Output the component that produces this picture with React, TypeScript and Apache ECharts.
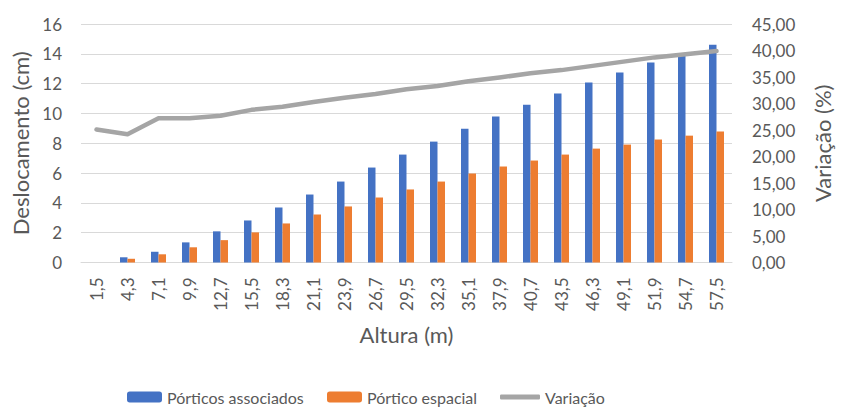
import React, { useEffect, useRef } from "react";
import * as echarts from "echarts";

// Altura (m) de cada nível
const alturas = [
  "1,5", "4,3", "7,1", "9,9", "12,7", "15,5", "18,3", "21,1", "23,9", "26,7", "29,5",
  "32,3", "35,1", "37,9", "40,7", "43,5", "46,3", "49,1", "51,9", "54,7", "57,5",
];

// Deslocamento (cm) — pórticos associados
const porticosAssociados = [
  0.0, 0.35, 0.72, 1.35, 2.09, 2.82, 3.69, 4.56, 5.43, 6.37, 7.24,
  8.11, 8.98, 9.79, 10.59, 11.33, 12.08, 12.75, 13.42, 14.0, 14.6,
];

// Deslocamento (cm) — pórtico espacial
const porticoEspacial = [
  0.0, 0.25, 0.55, 1.02, 1.5, 2.02, 2.62, 3.22, 3.76, 4.36, 4.9,
  5.43, 5.97, 6.44, 6.84, 7.24, 7.64, 7.91, 8.25, 8.51, 8.78,
];

// Variação (%) entre os dois modelos
const variacao = [
  25.1, 24.2, 27.2, 27.2, 27.7, 28.8, 29.4, 30.3, 31.1, 31.8, 32.7,
  33.3, 34.2, 34.9, 35.7, 36.3, 37.1, 37.9, 38.7, 39.3, 39.9,
];

const FONT = "Lato";
const TXT = "#595959";

export default function App() {
  const ref = useRef<HTMLDivElement>(null);

  useEffect(() => {
    document.body.style.margin = "0";
    if (!ref.current) return;
    const chart = echarts.init(ref.current, undefined, { renderer: "svg" });
    const legendText = { color: TXT, fontSize: 16, fontFamily: FONT };
    const legendBase = { top: 384, itemGap: 0, itemWidth: 35, itemHeight: 11, textStyle: legendText };
    chart.setOption({
      animation: false,
      backgroundColor: "#ffffff",
      grid: { left: 81, right: 101, top: 24, bottom: 145.5, containLabel: false },
      legend: [
        { ...legendBase, data: ["Pórticos associados"], left: 122 },
        { ...legendBase, data: ["Pórtico espacial"], left: 322 },
        {
          ...legendBase,
          data: [{ name: "Variação", icon: "roundRect" }],
          left: 495,
          itemWidth: 40,
          itemHeight: 5,
        },
      ],
      xAxis: {
        type: "category",
        data: alturas,
        name: "Altura (m)",
        nameLocation: "middle",
        nameGap: 61,
        nameTextStyle: { color: TXT, fontSize: 22, fontFamily: FONT },
        axisLine: { lineStyle: { color: "#D9D9D9", width: 1 } },
        axisTick: { show: false },
        axisLabel: { rotate: 90, margin: 15, color: TXT, fontSize: 17, fontFamily: FONT },
      },
      yAxis: [
        {
          type: "value",
          min: 0, max: 16, interval: 2,
          name: "Deslocamento (cm)",
          nameLocation: "middle",
          nameGap: 49,
          nameTextStyle: { color: TXT, fontSize: 22, fontFamily: FONT },
          axisLine: { show: false },
          axisTick: { show: false },
          axisLabel: { margin: 19, color: TXT, fontSize: 17, fontFamily: FONT },
          splitLine: { lineStyle: { color: "#D9D9D9", width: 1 } },
        },
        {
          type: "value",
          min: 0, max: 45, interval: 5,
          name: "Variação (%)",
          nameLocation: "middle",
          nameGap: 79,
          nameRotate: 90,
          nameTextStyle: { color: TXT, fontSize: 22, fontFamily: FONT },
          axisLine: { show: false },
          axisTick: { show: false },
          axisLabel: {
            margin: 20, color: TXT, fontSize: 17, fontFamily: FONT,
            formatter: (v: number) => v.toFixed(2).replace(".", ","),
          },
          splitLine: { show: false },
        },
      ],
      series: [
        {
          name: "Pórticos associados",
          type: "bar",
          data: porticosAssociados,
          barWidth: 7.5,
          barGap: "0%",
          itemStyle: { color: "#4472C4" },
        },
        {
          name: "Pórtico espacial",
          type: "bar",
          data: porticoEspacial,
          barWidth: 7.5,
          barGap: "0%",
          itemStyle: { color: "#ED7D31" },
        },
        {
          name: "Variação",
          type: "line",
          yAxisIndex: 1,
          data: variacao,
          symbol: "none",
          lineStyle: { color: "#A5A5A5", width: 4.5, cap: "round", join: "round" },
          itemStyle: { color: "#A5A5A5" },
          z: 3,
        },
      ],
    });
    return () => chart.dispose();
  }, []);

  return <div ref={ref} style={{ width: 841, height: 408 }} />;
}
